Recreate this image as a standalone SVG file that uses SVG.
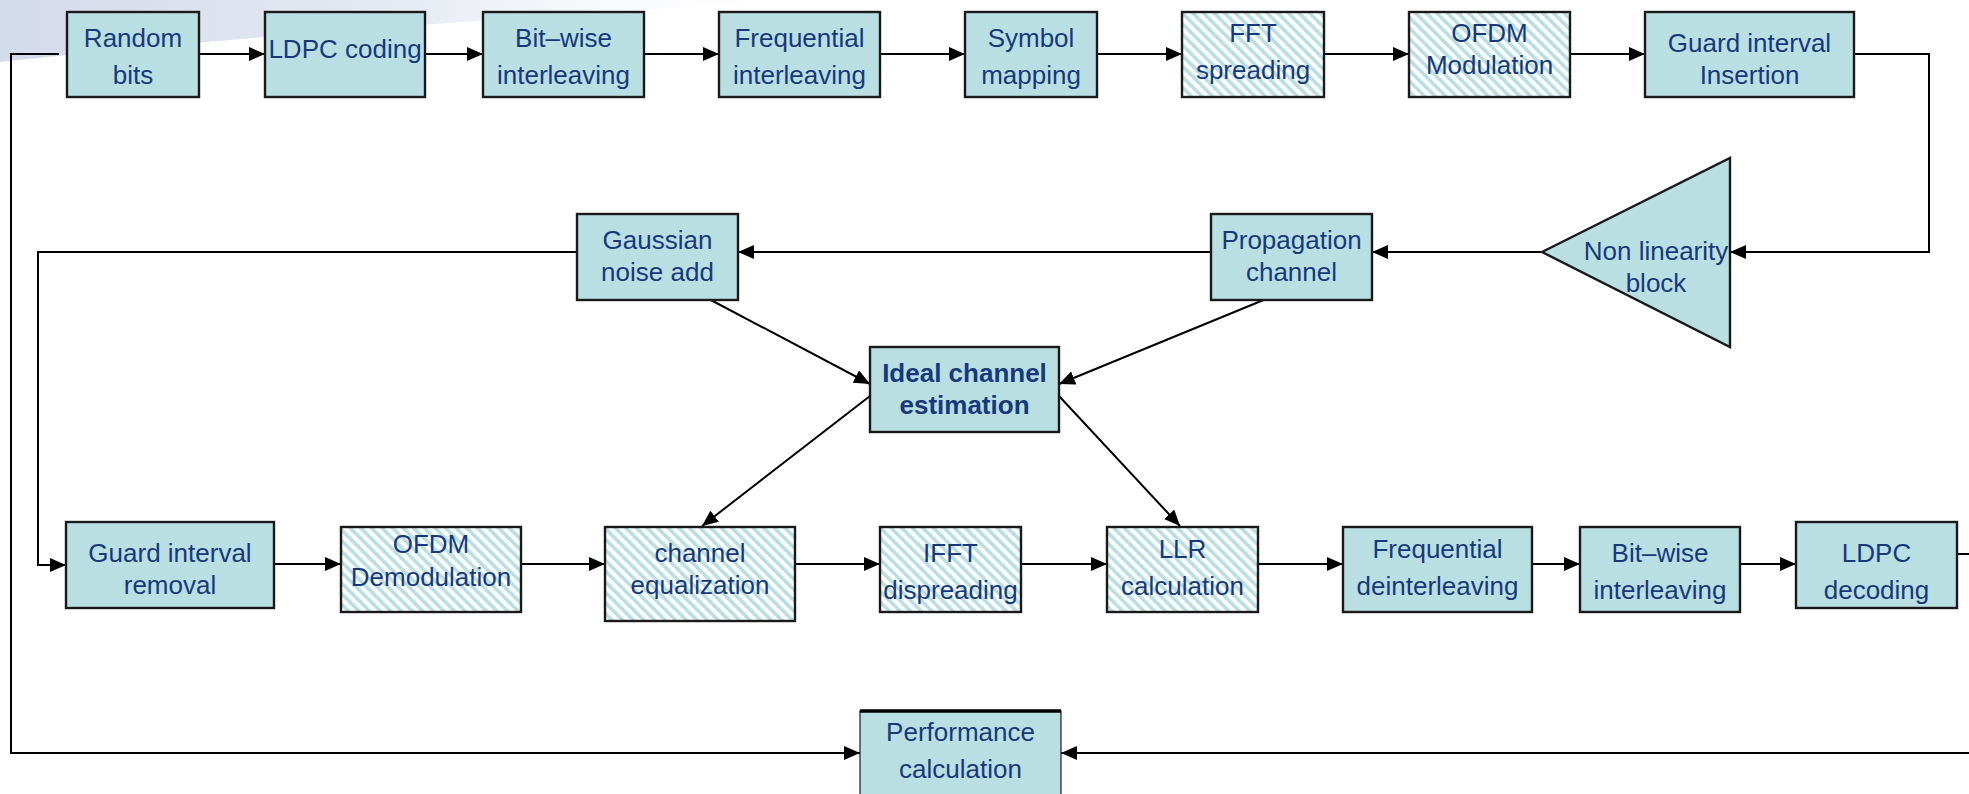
<svg xmlns="http://www.w3.org/2000/svg" width="1969" height="794" viewBox="0 0 1969 794">
<style>
.box{fill:#B9DFE3;stroke:#1a1a1a;stroke-width:2.4}
.hatch{fill:url(#hatch);stroke:#1a1a1a;stroke-width:2.4}
.t{font-family:"Liberation Sans",Arial,sans-serif;font-size:26px;fill:#17397C;text-anchor:middle}
.b{font-weight:bold}
.c{fill:none;stroke:#000;stroke-width:2}
.a{marker-end:url(#arr)}
</style>
<defs>
<pattern id="hatch" patternUnits="userSpaceOnUse" width="7.5" height="7.5" patternTransform="rotate(-45)">
<rect width="7.5" height="7.5" fill="#ffffff"/>
<rect width="3.6" height="7.5" fill="#B9DFE3"/>
</pattern>
<marker id="arr" markerUnits="userSpaceOnUse" viewBox="0 0 16 14" refX="16" refY="7" markerWidth="16" markerHeight="14" orient="auto">
<path d="M0,0 L16,7 L0,14 Z" fill="#000"/>
</marker>
<linearGradient id="bg" x1="0" y1="0" x2="1" y2="0">
<stop offset="0" stop-color="#D3DAEA"/>
<stop offset="0.5" stop-color="#E6EAF3"/>
<stop offset="1" stop-color="#ffffff" stop-opacity="0"/>
</linearGradient>
</defs>
<rect width="1969" height="794" fill="#ffffff"/>
<path d="M0,0 H820 C600,12 300,30 0,62 Z" fill="url(#bg)"/>

<g id="connectors">
<line class="c a" x1="199" y1="54" x2="265" y2="54"/>
<line class="c a" x1="425" y1="54" x2="483" y2="54"/>
<line class="c a" x1="644" y1="54" x2="719" y2="54"/>
<line class="c a" x1="880" y1="54" x2="965" y2="54"/>
<line class="c a" x1="1097" y1="54" x2="1182" y2="54"/>
<line class="c a" x1="1324" y1="54" x2="1409" y2="54"/>
<line class="c a" x1="1570" y1="54" x2="1645" y2="54"/>
<polyline class="c a" points="1854,54 1929,54 1929,252 1730,252"/>
<line class="c a" x1="1542" y1="252" x2="1372" y2="252"/>
<line class="c a" x1="1211" y1="252" x2="738" y2="252"/>
<polyline class="c a" points="577,252 38,252 38,565 66,565"/>
<line class="c a" x1="709" y1="299" x2="870" y2="384"/>
<line class="c a" x1="1266" y1="299" x2="1059" y2="384"/>
<line class="c a" x1="870" y1="396" x2="702" y2="526"/>
<line class="c a" x1="1059" y1="396" x2="1180" y2="526"/>
<line class="c a" x1="274" y1="564" x2="341" y2="564"/>
<line class="c a" x1="521" y1="564" x2="605" y2="564"/>
<line class="c a" x1="795" y1="564" x2="880" y2="564"/>
<line class="c a" x1="1021" y1="564" x2="1107" y2="564"/>
<line class="c a" x1="1258" y1="564" x2="1343" y2="564"/>
<line class="c a" x1="1532" y1="564" x2="1580" y2="564"/>
<line class="c a" x1="1740" y1="564" x2="1796" y2="564"/>
<line class="c" x1="1957" y1="554" x2="1969" y2="554"/>
<polyline class="c a" points="59,54 11,54 11,753 860,753"/>
<line class="c a" x1="1969" y1="753" x2="1061" y2="753"/>
</g>

<g id="random-bits"><rect class="box" x="67" y="12" width="132" height="85"/><text class="t" x="133" y="47">Random</text><text class="t" x="133" y="84">bits</text></g>
<g id="ldpc-coding"><rect class="box" x="265" y="12" width="160" height="85"/><text class="t" x="345" y="58">LDPC coding</text></g>
<g id="bitwise-interleaving"><rect class="box" x="483" y="12" width="161" height="85"/><text class="t" x="563.5" y="47">Bit–wise</text><text class="t" x="563.5" y="84">interleaving</text></g>
<g id="frequential-interleaving"><rect class="box" x="719" y="12" width="161" height="85"/><text class="t" x="799.5" y="47">Frequential</text><text class="t" x="799.5" y="84">interleaving</text></g>
<g id="symbol-mapping"><rect class="box" x="965" y="12" width="132" height="85"/><text class="t" x="1031" y="47">Symbol</text><text class="t" x="1031" y="84">mapping</text></g>
<g id="fft-spreading"><rect class="hatch" x="1182" y="12" width="142" height="85"/><text class="t" x="1253" y="42">FFT</text><text class="t" x="1253" y="79">spreading</text></g>
<g id="ofdm-modulation"><rect class="hatch" x="1409" y="12" width="161" height="85"/><text class="t" x="1489.5" y="42">OFDM</text><text class="t" x="1489.5" y="74">Modulation</text></g>
<g id="guard-insertion"><rect class="box" x="1645" y="12" width="209" height="85"/><text class="t" x="1749.5" y="52">Guard interval</text><text class="t" x="1749.5" y="84">Insertion</text></g>

<g id="non-linearity"><path class="box" d="M1542,252 L1730,158 L1730,347 Z"/><text class="t" x="1656" y="260">Non linearity</text><text class="t" x="1656" y="292">block</text></g>
<g id="propagation-channel"><rect class="box" x="1211" y="214" width="161" height="86"/><text class="t" x="1291.5" y="249">Propagation</text><text class="t" x="1291.5" y="281">channel</text></g>
<g id="gaussian-noise"><rect class="box" x="577" y="214" width="161" height="86"/><text class="t" x="657.5" y="249">Gaussian</text><text class="t" x="657.5" y="281">noise add</text></g>
<g id="ideal-channel-estimation"><rect class="box" x="870" y="347" width="189" height="85"/><text class="t b" x="964.5" y="382">Ideal channel</text><text class="t b" x="964.5" y="414">estimation</text></g>

<g id="guard-removal"><rect class="box" x="66" y="522" width="208" height="86"/><text class="t" x="170" y="562">Guard interval</text><text class="t" x="170" y="594">removal</text></g>
<g id="ofdm-demodulation"><rect class="hatch" x="341" y="527" width="180" height="85"/><text class="t" x="431" y="553">OFDM</text><text class="t" x="431" y="586">Demodulation</text></g>
<g id="channel-equalization"><rect class="hatch" x="605" y="527" width="190" height="94"/><text class="t" x="700" y="562">channel</text><text class="t" x="700" y="594">equalization</text></g>
<g id="ifft-dispreading"><rect class="hatch" x="880" y="527" width="141" height="85"/><text class="t" x="950.5" y="562">IFFT</text><text class="t" x="950.5" y="599">dispreading</text></g>
<g id="llr-calculation"><rect class="hatch" x="1107" y="527" width="151" height="85"/><text class="t" x="1182.5" y="558">LLR</text><text class="t" x="1182.5" y="595">calculation</text></g>
<g id="frequential-deinterleaving"><rect class="box" x="1343" y="527" width="189" height="85"/><text class="t" x="1437.5" y="558">Frequential</text><text class="t" x="1437.5" y="595">deinterleaving</text></g>
<g id="bitwise-interleaving-rx"><rect class="box" x="1580" y="527" width="160" height="85"/><text class="t" x="1660" y="562">Bit–wise</text><text class="t" x="1660" y="599">interleaving</text></g>
<g id="ldpc-decoding"><rect class="box" x="1796" y="522" width="161" height="86"/><text class="t" x="1876.5" y="562">LDPC</text><text class="t" x="1876.5" y="599">decoding</text></g>

<g id="performance-calculation"><rect x="860" y="711" width="201" height="90" fill="#B9DFE3" stroke="#1a1a1a" stroke-width="1.2"/><line x1="860" y1="711" x2="1061" y2="711" stroke="#000" stroke-width="3.5"/><text class="t" x="960.5" y="741">Performance</text><text class="t" x="960.5" y="778">calculation</text></g>
</svg>
